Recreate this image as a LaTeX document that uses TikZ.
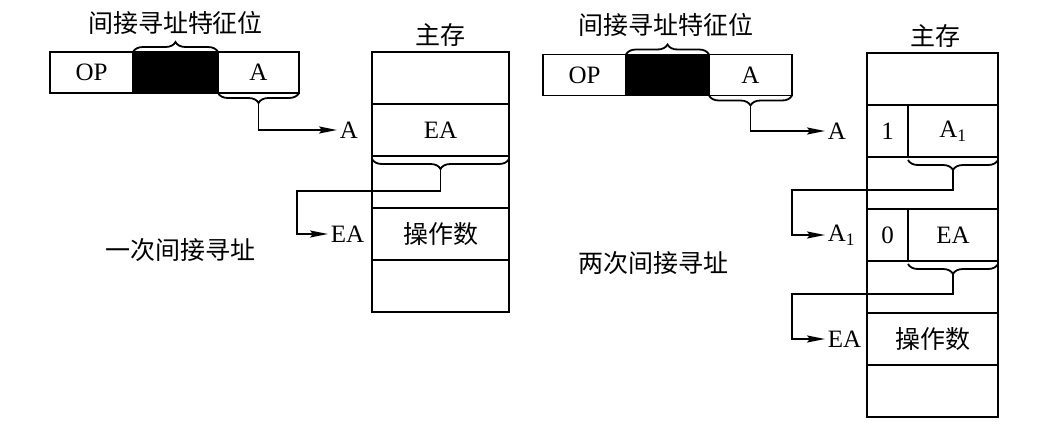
\documentclass[tikz,border=0pt]{standalone}
\usepackage{fontspec}
\setmainfont{Liberation Serif}
\newfontfamily\cjk{Noto Sans CJK SC}
\usetikzlibrary{arrows.meta,calc,positioning,decorations.pathreplacing}

\begin{document}
\begin{tikzpicture}[x=1pt, y=-1pt, line width=1.8pt,
    >={Stealth[length=18pt,width=7pt,inset=3pt]},
    cell/.style={draw, inner sep=0pt, outer sep=0pt, minimum height=41pt,
        font=\fontsize{25}{27}\selectfont},
    row/.style={cell, minimum height=52pt},
    lbl/.style={inner sep=2pt, font=\fontsize{25}{27}\selectfont},
    cn/.style={inner sep=0pt, font=\cjk\fontsize{25}{27}\selectfont},
    brace/.style={decorate, decoration={brace, amplitude=10pt}},
    bracedn/.style={decorate, decoration={brace, mirror, amplitude=10pt, raise=3pt}}]
    \useasboundingbox (0,0) rectangle (1061,429);

    % single indirect: instruction
    \node[cell, minimum width=83pt] (opL) at (91.5,72.5) {OP};
    \node[cell, fill=black, minimum width=85pt, right=0pt of opL] (bitL) {};
    \node[cell, minimum width=81pt, right=0pt of bitL] (aL) {A};
    \draw[brace] (bitL.north west) -- (bitL.north east);
    \node[cn] (featL) at (175.5,23) {间接寻址特征位};
    \draw[bracedn, decoration={raise=0pt}] (aL.south west) -- (aL.south east);
    \coordinate (tipAL) at ($(aL.south)+(0,10)$);

    % single indirect: main memory
    \node[row, minimum width=137pt] (mL0) at (440.5,78) {};
    \node[row, minimum width=137pt, below=0pt of mL0] (mL1) {EA};
    \node[row, minimum width=137pt, below=0pt of mL1] (mL2) {};
    \node[row, minimum width=137pt, below=0pt of mL2, font=\cjk\fontsize{25}{27}\selectfont] (mL3) {操作数};
    \node[row, minimum width=137pt, below=0pt of mL3] (mL4) {};
    \node[cn] (memL) at (440.5,35) {主存};
    \draw[bracedn] (mL1.south west) -- (mL1.south east);
    \coordinate (tipML1) at ($(mL1.south)+(0,13)$);

    \node[lbl, anchor=west] (pAL) at (337,0 |- mL1) {A};
    \node[lbl, anchor=west] (pEAL) at (328,0 |- mL3) {EA};
    \draw[->] (tipAL) |- (pAL.west);
    \draw[->] (tipML1) -- ++(0,22) -| ($(pEAL.west)+(-31,0)$) -- (pEAL.west);

    \node[cn] (capL) at (180,250) {一次间接寻址};

    % double indirect: instruction
    \node[cell, minimum width=83pt] (opR) at (584.5,75) {OP};
    \node[cell, fill=black, minimum width=83pt, right=0pt of opR] (bitR) {};
    \node[cell, minimum width=83pt, right=0pt of bitR] (aR) {A};
    \draw[brace] (bitR.north west) -- (bitR.north east);
    \node[cn] (featR) at (666,25) {间接寻址特征位};
    \draw[bracedn, decoration={raise=0pt}] (aR.south west) -- (aR.south east);
    \coordinate (tipAR) at ($(aR.south)+(0,10)$);

    % double indirect: main memory
    \node[row, minimum width=131pt] (mR0) at (932.5,79) {};
    \node[row, minimum width=41pt, below=0pt of mR0.south west, anchor=north west] (fR1) {1};
    \node[row, minimum width=90pt, right=0pt of fR1] (mR1) {A\textsubscript{1}};
    \node[row, minimum width=131pt, below=0pt of fR1.south west, anchor=north west] (mR2) {};
    \node[row, minimum width=41pt, below=0pt of mR2.south west, anchor=north west] (fR3) {0};
    \node[row, minimum width=90pt, right=0pt of fR3] (mR3) {EA};
    \node[row, minimum width=131pt, below=0pt of fR3.south west, anchor=north west] (mR4) {};
    \node[row, minimum width=131pt, below=0pt of mR4, font=\cjk\fontsize{25}{27}\selectfont] (mR5) {操作数};
    \node[row, minimum width=131pt, below=0pt of mR5] (mR6) {};
    \node[cn] (memR) at (935,36) {主存};
    \draw[bracedn] (mR1.south west) -- (mR1.south east);
    \coordinate (tipMR1) at ($(mR1.south)+(0,13)$);
    \draw[bracedn] (mR3.south west) -- (mR3.south east);
    \coordinate (tipMR3) at ($(mR3.south)+(0,13)$);

    \node[lbl, anchor=west] (pAR) at (825,0 |- mR1) {A};
    \node[lbl, anchor=west] (pA1R) at (825,0 |- mR3) {A\textsubscript{1}};
    \node[lbl, anchor=west] (pEAR) at (825,0 |- mR5) {EA};
    \draw[->] (tipAR) |- (pAR.west);
    \draw[->] (tipMR1) -- ++(0,20) -| ($(pA1R.west)+(-33,0)$) -- (pA1R.west);
    \draw[->] (tipMR3) -- ++(0,20) -| ($(pEAR.west)+(-33,0)$) -- (pEAR.west);

    \node[cn] (capR) at (653,263) {两次间接寻址};
\end{tikzpicture}
\end{document}
